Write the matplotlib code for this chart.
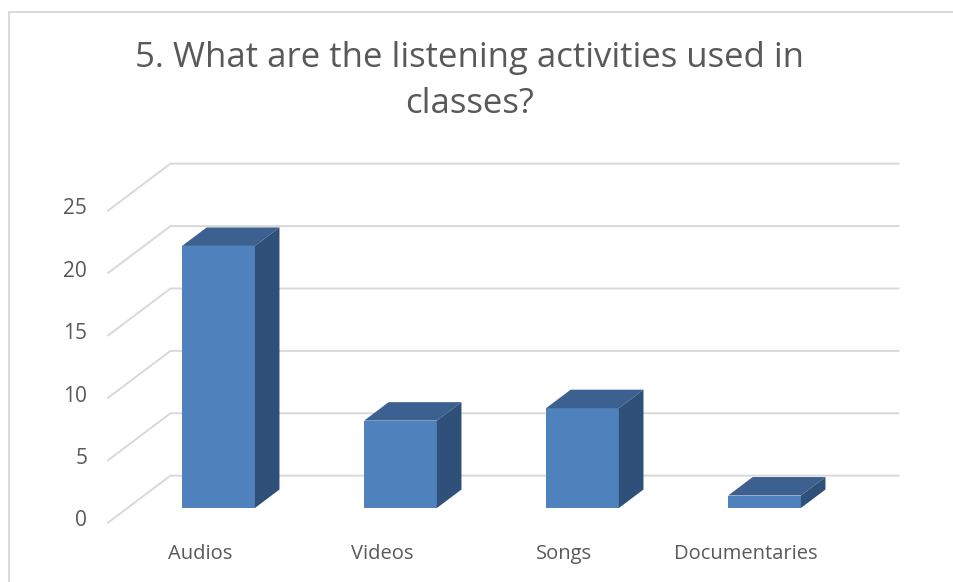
import matplotlib
matplotlib.use("Agg")
import matplotlib.pyplot as plt
from matplotlib.lines import Line2D
from matplotlib.transforms import Affine2D

plt.rcParams["font.family"] = ["Open Sans", "DejaVu Sans"]

title = "5. What are the listening activities used in\nclasses?"
categories = ["Audios", "Videos", "Songs", "Documentaries"]
values = [21, 7, 8, 1]
y_ticks = [0, 5, 10, 15, 20, 25]

W, H = 954, 582
text_col = "#595959"
grid_col = "#D9D9D9"
front_col = "#4F81BD"
top_col = "#3C6190"
side_col = "#2F5078"

bar_w = 0.4
# oblique projection: one unit of depth moves this far in data units
dx = 0.135
dy = 1.48
wall_front = -0.79
wall_back = 1.75


def proj(x, v, d):
    return x + d * dx, v + d * dy


fig = plt.figure(figsize=(W / 100, H / 100), dpi=100)
ax = fig.add_axes([127.5 / W, (H - 508) / H, 728 / W, 312 / H])
for s in ax.spines.values():
    s.set_visible(False)

# walls and floor lines
for v in y_ticks:
    x1, y1 = proj(-0.5, v, wall_front)
    x2, y2 = proj(-0.5, v, wall_back)
    x3, y3 = proj(3.5, v, wall_back)
    ax.plot([x1, x2, x3], [y1, y2, y3], color=grid_col, lw=1.4, clip_on=False,
            solid_joinstyle="miter", zorder=1)

# bars: front, top and right side
for i, val in enumerate(values):
    l = i - bar_w / 2
    r = i + bar_w / 2
    ax.bar(i, val, width=bar_w, color=front_col, zorder=3)
    tx, ty = zip(proj(l, val, 0), proj(r, val, 0), proj(r, val, 1), proj(l, val, 1))
    ax.fill(tx, ty, color=top_col, lw=0, clip_on=False, zorder=3)
    sx, sy = zip(proj(r, 0, 0), proj(r, val, 0), proj(r, val, 1), proj(r, 0, 1))
    ax.fill(sx, sy, color=side_col, lw=0, clip_on=False, zorder=3)

ax.set_xticks(range(len(categories)), categories)
ax.set_yticks(y_ticks)
ax.tick_params(axis="both", length=0, labelcolor=text_col)
ax.tick_params(axis="x", pad=26, labelsize=14.5)
ax.tick_params(axis="y", pad=29, labelsize=15)
ax.set_xlim(-0.5, 3.5)
ax.set_ylim(0, 25)

# tick labels line up with the front edge of the wall, not the bar plane
for lab in ax.get_yticklabels():
    lab.set_transform(lab.get_transform() + Affine2D().translate(0, -10.5))
for lab in ax.get_xticklabels():
    lab.set_transform(lab.get_transform() + Affine2D().translate(-18.5, 0))

fig.text(470 / W, 1 - 81 / H, title, ha="center", va="center", fontsize=25,
         color=text_col, linespacing=1.45)

# chart border, running off the right and bottom edges
for xs, ys in [([9, 9], [12, H]), ([9, W], [12, 12])]:
    fig.add_artist(Line2D([x / W for x in xs], [1 - y / H for y in ys],
                          color=grid_col, lw=1.4))

fig.savefig("out.png", dpi=100)
